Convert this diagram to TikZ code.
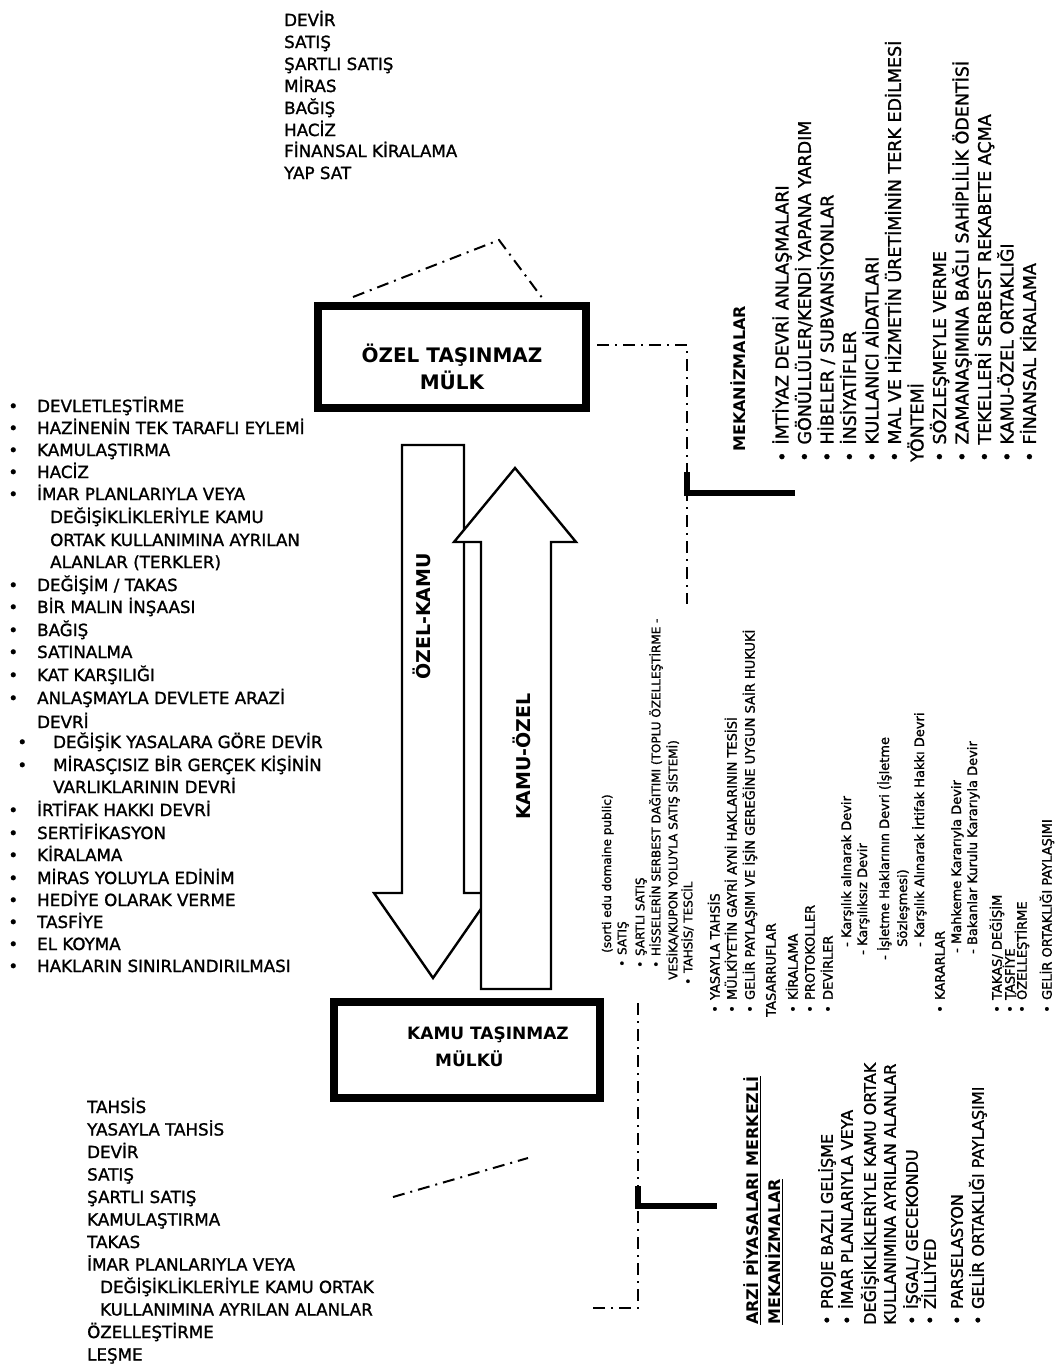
\documentclass[tikz,border=0pt]{standalone}
\usepackage{fontspec}
\setmainfont{DejaVu Sans}[UprightFeatures={FakeBold=1.3}]
\usetikzlibrary{calc}
\newcommand{\bul}[1]{\llap{•\hspace{#1}}}
\newcommand{\rb}{•\hspace{0.4em}}
\tikzset{
  every node/.style={inner sep=0pt},
  lst/.style={anchor=base west, font=\fontsize{16.7}{20}\selectfont},
  rl/.style={anchor=base west, rotate=90, font=\fontsize{17.5}{20}\selectfont},
  rlb/.style={anchor=base west, rotate=90, font=\fontsize{16}{20}\selectfont\bfseries},
  br/.style={anchor=base west, rotate=90, font=\fontsize{16}{20}\selectfont},
  sm/.style={anchor=base west, rotate=90, font=\fontsize{12}{14}\selectfont},
  md/.style={anchor=base west, rotate=90, font=\fontsize{13}{15}\selectfont},
  boxframe/.style={draw, line width=8pt},
  boxtxt/.style={anchor=base, font=\fontsize{20}{24}\selectfont\bfseries},
  boxtxtb/.style={anchor=base west, font=\fontsize{17}{20}\selectfont\bfseries},
  arrowshape/.style={draw, line width=2.4pt, fill=white, line join=miter},
  arrowtxt/.style={anchor=base west, rotate=90, font=\fontsize{19}{22}\selectfont\bfseries},
  dd/.style={line width=2pt, dash pattern=on 12pt off 6pt on 2pt off 6pt},
  bracket/.style={line width=6pt},
}
\begin{document}
\begin{tikzpicture}[x=1pt,y=-1pt]
\path[fill=white] (0,0) rectangle (1059,1365);
\useasboundingbox (0,0) rectangle (1059,1365);

% ---------- top list ----------
\node[lst] (t1) at (284,26) {DEVİR};
\node[lst] (t2) at (284,48) {SATIŞ};
\node[lst] (t3) at (284,70) {ŞARTLI SATIŞ};
\node[lst] (t4) at (284,92) {MİRAS};
\node[lst] (t5) at (284,114) {BAĞIŞ};
\node[lst] (t6) at (284,136) {HACİZ};
\node[lst] (t7) at (284,157) {FİNANSAL KİRALAMA};
\node[lst] (t8) at (284,179) {YAP SAT};

% ---------- boxes ----------
\node[boxframe, minimum width=267.5pt, minimum height=102pt] (ozel) at (451.75,357) {};
\node[boxtxt] (ozel1) at (452,362) {ÖZEL TAŞINMAZ};
\node[boxtxt] (ozel2) at (452,389) {MÜLK};

\node[boxframe, minimum width=266pt, minimum height=96pt] (kamu) at (467,1050) {};
\node[boxtxtb] (kamu1) at (407,1039) {KAMU TAŞINMAZ};
\node[boxtxtb] (kamu2) at (435,1066) {MÜLKÜ};

% ---------- arrows ----------
\draw[arrowshape] (402,445) -- (464,445) -- (464,893) -- (492,893) -- (433,978) -- (374,893) -- (402,893) -- cycle;
\node[arrowtxt] (ok) at (430,680) {ÖZEL-KAMU};
\draw[arrowshape] (515,468) -- (576,542) -- (551,542) -- (551,989) -- (481,989) -- (481,542) -- (454,542) -- cycle;
\node[arrowtxt] (ko) at (530,820) {KAMU-ÖZEL};

% ---------- connectors ----------
\coordinate (a1) at (353,297);
\coordinate (a2) at (499,240);
\coordinate (a3) at (543,299);
\draw[dd] (a1) -- (a2) -- (a3);

\coordinate (b1) at (597,345);
\coordinate (b2) at (687,345);
\coordinate (b3) at (687,604);
\draw[dd] (b1) -- (b2) -- (b3);
\coordinate (c1) at (687,472);
\coordinate (c2) at (687,493);
\coordinate (c3) at (795,493);
\draw[bracket] (c1) -- (c2) -- (c3);

\coordinate (d1) at (638,1003);
\coordinate (d2) at (638,1308);
\coordinate (d3) at (590,1308);
\draw[dd] (d1) -- (d2) -- (d3);
\coordinate (e1) at (638,1186);
\coordinate (e2) at (638,1206);
\coordinate (e3) at (717,1206);
\draw[bracket] (e1) -- (e2) -- (e3);

\coordinate (f1) at (393,1197);
\coordinate (f2) at (528,1158);
\draw[dd] (f1) -- (f2);

% ---------- left list ----------
\node[lst] (l1) at (37,412) {\bul{19pt}DEVLETLEŞTİRME};
\node[lst] (l2) at (37,434) {\bul{19pt}HAZİNENİN TEK TARAFLI EYLEMİ};
\node[lst] (l3) at (37,456) {\bul{19pt}KAMULAŞTIRMA};
\node[lst] (l4) at (37,478) {\bul{19pt}HACİZ};
\node[lst] (l5) at (37,500) {\bul{19pt}İMAR PLANLARIYLA VEYA};
\node[lst] (l6) at (50,523) {DEĞİŞİKLİKLERİYLE KAMU};
\node[lst] (l7) at (50,546) {ORTAK KULLANIMINA AYRILAN};
\node[lst] (l8) at (50,568) {ALANLAR (TERKLER)};
\node[lst] (l9) at (37,591) {\bul{19pt}DEĞİŞİM / TAKAS};
\node[lst] (l10) at (37,613) {\bul{19pt}BİR MALIN İNŞAASI};
\node[lst] (l11) at (37,636) {\bul{19pt}BAĞIŞ};
\node[lst] (l12) at (37,658) {\bul{19pt}SATINALMA};
\node[lst] (l13) at (37,681) {\bul{19pt}KAT KARŞILIĞI};
\node[lst] (l14) at (37,704) {\bul{19pt}ANLAŞMAYLA DEVLETE ARAZİ};
\node[lst] (l15) at (37,728) {DEVRİ};
\node[lst] (l16) at (53,748) {\bul{26pt}DEĞİŞİK YASALARA GÖRE DEVİR};
\node[lst] (l17) at (53,771) {\bul{26pt}MİRASÇISIZ BİR GERÇEK KİŞİNİN};
\node[lst] (l18) at (53,793) {VARLIKLARININ DEVRİ};
\node[lst] (l19) at (37,816) {\bul{19pt}İRTİFAK HAKKI DEVRİ};
\node[lst] (l20) at (37,839) {\bul{19pt}SERTİFİKASYON};
\node[lst] (l21) at (37,861) {\bul{19pt}KİRALAMA};
\node[lst] (l22) at (37,884) {\bul{19pt}MİRAS YOLUYLA EDİNİM};
\node[lst] (l23) at (37,906) {\bul{19pt}HEDİYE OLARAK VERME};
\node[lst] (l24) at (37,928) {\bul{19pt}TASFİYE};
\node[lst] (l25) at (37,950) {\bul{19pt}EL KOYMA};
\node[lst] (l26) at (37,972) {\bul{19pt}HAKLARIN SINIRLANDIRILMASI};

% ---------- bottom-left list ----------
\node[lst] (k1) at (87,1113) {TAHSİS};
\node[lst] (k2) at (87,1135.5) {YASAYLA TAHSİS};
\node[lst] (k3) at (87,1158) {DEVİR};
\node[lst] (k4) at (87,1180.5) {SATIŞ};
\node[lst] (k5) at (87,1203) {ŞARTLI SATIŞ};
\node[lst] (k6) at (87,1225.5) {KAMULAŞTIRMA};
\node[lst] (k7) at (87,1248) {TAKAS};
\node[lst] (k8) at (87,1270.5) {İMAR PLANLARIYLA VEYA};
\node[lst] (k9) at (100,1293) {DEĞİŞİKLİKLERİYLE KAMU ORTAK};
\node[lst] (k10) at (100,1315.5) {KULLANIMINA AYRILAN ALANLAR};
\node[lst] (k11) at (87,1338) {ÖZELLEŞTİRME};
\node[lst] (k12) at (87,1360.5) {LEŞME};

% ---------- top-right list (rotated) ----------
\node[rlb] (mek) at (745.8,452) {MEKANİZMALAR};
\node[rl] (r1) at (788.4,462) {\rb İMTİYAZ DEVRİ ANLAŞMALARI};
\node[rl] (r2) at (810.9,462) {\rb GÖNÜLLÜLER/KENDİ YAPANA YARDIM};
\node[rl] (r3) at (833.4,462) {\rb HİBELER / SUBVANSİYONLAR};
\node[rl] (r4) at (855.9,462) {\rb İNSİYATİFLER};
\node[rl] (r5) at (878.4,462) {\rb KULLANICI AİDATLARI};
\node[rl] (r6) at (900.9,462) {\rb MAL VE HİZMETİN ÜRETİMİNİN TERK EDİLMESİ};
\node[rl] (r7) at (923.4,462) {YÖNTEMİ};
\node[rl] (r8) at (945.9,462) {\rb SÖZLEŞMEYLE VERME};
\node[rl] (r9) at (968.4,462) {\rb ZAMANAŞIMINA BAĞLI SAHİPLİLİK ÖDENTİSİ};
\node[rl] (r10) at (990.9,462) {\rb TEKELLERİ SERBEST REKABETE AÇMA};
\node[rl] (r11) at (1013.4,462) {\rb KAMU-ÖZEL ORTAKLIĞI};
\node[rl] (r12) at (1035.9,462) {\rb FİNANSAL KİRALAMA};

% ---------- middle small list (rotated) ----------
\node[sm] (m1) at (611,953) {(sorti edu domaine public)};
\node[sm] (m2) at (626.4,967) {\rb SATIŞ};
\node[sm] (m3) at (644.4,968) {\rb ŞARTLI SATIŞ};
\node[sm] (m4) at (660.4,968) {\rb HİSSELERİN SERBEST DAĞITIMI (TOPLU ÖZELLEŞTİRME -};
\node[sm] (m5) at (677.4,980) {VESİKA/KUPON YOLUYLA SATIŞ SİSTEMİ)};
\node[sm] (m6) at (692.4,985) {\rb TAHSİS/ TESCİL};
\node[md] (m7) at (719.7,1013) {\rb YASAYLA TAHSİS};
\node[md] (m8) at (736.7,1013) {\rb MÜLKİYETİN GAYRİ AYNİ HAKLARININ TESİSİ};
\node[md] (m9) at (754.7,1013) {\rb GELİR PAYLAŞIMI VE İŞİN GEREĞİNE UYGUN SAİR HUKUKİ};
\node[md] (m10) at (775.7,1017) {TASARRUFLAR};
\node[md] (m11) at (797.7,1013) {\rb KİRALAMA};
\node[md] (m12) at (814.7,1013) {\rb PROTOKOLLER};
\node[md] (m13) at (832.7,1013) {\rb DEVİRLER};
\node[md] (m14) at (851,947) {- Karşılık alınarak Devir};
\node[md] (m15) at (867,955) {- Karşılıksız Devir};
\node[md] (m16) at (889,960) {- İşletme Haklarının Devri (İşletme};
\node[md] (m17) at (907,947) {Sözleşmesi)};
\node[md] (m18) at (924,947) {- Karşılık Alınarak İrtifak Hakkı Devri};
\node[md] (m19) at (944.7,1013) {\rb KARARLAR};
\node[md] (m20) at (961,953) {- Mahkeme Kararıyla Devir};
\node[md] (m21) at (977,954) {- Bakanlar Kurulu Kararıyla Devir};
\node[md] (m22) at (1001.7,1013) {\rb TAKAS/ DEĞİŞİM};
\node[md] (m23) at (1014.7,1013) {\rb TASFİYE};
\node[md] (m24) at (1026.7,1013) {\rb ÖZELLEŞTİRME};
\node[md] (m25) at (1051.7,1013) {\rb GELİR ORTAKLIĞI PAYLAŞIMI};

% ---------- bottom-right list (rotated) ----------
\node[br, font=\fontsize{16}{20}\selectfont\bfseries] (arz1) at (758.8,1325) {\underline{ARZİ PİYASALARI MERKEZLİ}};
\node[br, font=\fontsize{16}{20}\selectfont\bfseries] (arz2) at (780.8,1325) {\underline{MEKANİZMALAR}};
\node[br] (s1) at (832.8,1325) {\rb PROJE BAZLI GELİŞME};
\node[br] (s2) at (852.8,1325) {\rb İMAR PLANLARIYLA VEYA};
\node[br] (s3) at (875.8,1325) {DEĞİŞİKLİKLERİYLE KAMU ORTAK};
\node[br] (s4) at (895.8,1325) {KULLANIMINA AYRILAN ALANLAR};
\node[br] (s5) at (917.8,1325) {\rb İŞGAL/ GECEKONDU};
\node[br] (s6) at (935.8,1325) {\rb ZİLLİYED};
\node[br] (s7) at (962.8,1325) {\rb PARSELASYON};
\node[br] (s8) at (983.8,1325) {\rb GELİR ORTAKLIĞI PAYLAŞIMI};
\end{tikzpicture}
\end{document}
